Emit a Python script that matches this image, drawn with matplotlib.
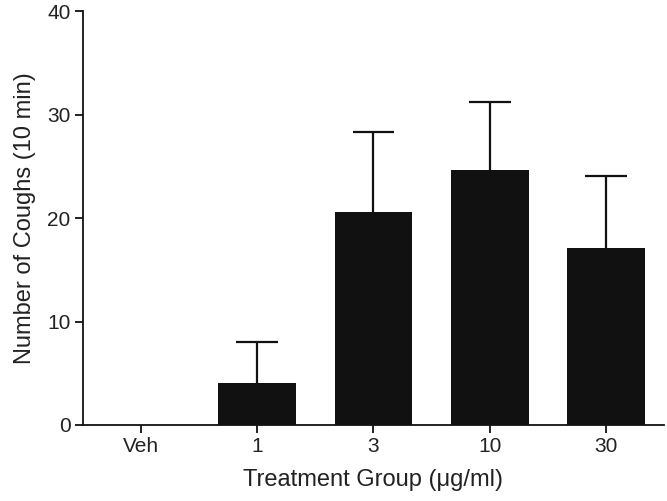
import numpy as np
import matplotlib
matplotlib.use("Agg")
import matplotlib.pyplot as plt

plt.rcParams['font.family'] = ['Liberation Sans', 'DejaVu Sans']

groups = ["Veh", "1", "3", "10", "30"]
coughs = [0, 4.1, 20.6, 24.6, 17.1]
sem = [0, 3.9, 7.7, 6.6, 7.0]

fig = plt.figure(figsize=(6.67, 5.01), dpi=100)
ax = fig.add_axes([0.1244, 0.1517, 0.8711, 0.8263])

x = np.arange(len(groups))
tops = np.array(coughs) + np.array(sem)
ax.bar(x, coughs, width=0.67, color='#111111', zorder=2)
# upward-only error bars with a cap only at the top
ax.vlines(x[1:], np.array(coughs)[1:], tops[1:], color='#111111', lw=1.6, zorder=1)
ax.hlines(tops[1:], x[1:] - 0.18, x[1:] + 0.18, color='#111111', lw=1.6, zorder=1)

ax.set_xlim(-0.5, 4.5)
ax.set_ylim(0, 40)
ax.set_yticks([0, 10, 20, 30, 40])
ax.set_xticks(x)
ax.set_xticklabels(groups)

for side in ['top', 'right']:
    ax.spines[side].set_visible(False)
for side in ['left', 'bottom']:
    ax.spines[side].set_linewidth(1.3)
    ax.spines[side].set_color('#111111')
ax.tick_params(axis='both', direction='out', length=6, width=1.3, color='#111111',
               labelsize=15, labelcolor='#222222', pad=3)

ax.set_xlabel("Treatment Group (\u03bcg/ml)", fontsize=17, color='#222222', labelpad=9)
ax.set_ylabel("Number of Coughs (10 min)", fontsize=17, color='#222222', labelpad=8)

fig.savefig("out.png", dpi=100)
